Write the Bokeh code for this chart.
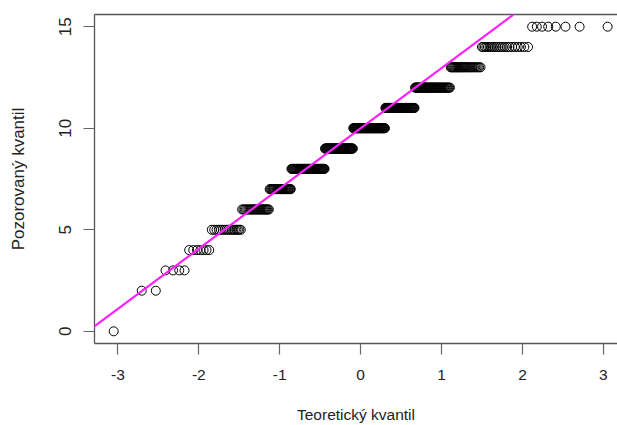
from statistics import NormalDist
import numpy as np
from bokeh.plotting import figure
from bokeh.models import Range1d, LinearAxis, FixedTicker, Slope
from bokeh.embed import file_html
from bokeh.resources import INLINE

values = [0, 1, 2, 3, 4, 5, 6, 7, 8, 9, 10, 11, 12, 13, 14, 15]
counts = [1, 0, 2, 4, 7, 17, 26, 29, 59, 59, 69, 57, 52, 29, 22, 8]
x_ticks = [-3, -2, -1, 0, 1, 2, 3]
x_tick_labels = ["-3", "-2", "-1", "0", "1", "2", "3"]
y_ticks = [0, 5, 10, 15]
y_tick_labels = ["0", "5", "10", "15"]
x_title = "Teoretický kvantil"
y_title = "Pozorovaný kvantil"

# build the sample, then the normal Q-Q coordinates (as R's qqnorm does)
sample = np.repeat(values, counts).astype(float)
n = len(sample)
nd = NormalDist()
theo = np.array([nd.inv_cdf((i + 1 - 0.5) / n) for i in range(n)])

# qqline through the 1st and 3rd quartiles
yq = np.quantile(sample, [0.25, 0.75])
xq = np.array([nd.inv_cdf(0.25), nd.inv_cdf(0.75)])
slope = (yq[1] - yq[0]) / (xq[1] - xq[0])
intercept = yq[0] - slope * xq[0]

FONT = "Liberation Sans"
BOX = "#555555"

p = figure(width=617, height=425, output_backend="svg", toolbar_location=None,
           x_range=Range1d(-3.29, 3.175), y_range=Range1d(-0.6, 15.6),
           min_border_left=94, min_border_right=0, min_border_top=14, min_border_bottom=81,
           x_axis_location=None, y_axis_location=None)
p.outline_line_color = None
p.grid.visible = False
p.background_fill_color = "white"
p.border_fill_color = "white"

xa = LinearAxis(ticker=FixedTicker(ticks=x_ticks), axis_label=x_title,
                major_label_overrides={t: s for t, s in zip(x_ticks, x_tick_labels)})
ya = LinearAxis(ticker=FixedTicker(ticks=y_ticks), axis_label=y_title,
                major_label_overrides={t: s for t, s in zip(y_ticks, y_tick_labels)})
for ax, fs in ((xa, "15.5px"), (ya, "17px")):
    ax.axis_line_color = BOX
    ax.axis_line_width = 1.3
    ax.major_tick_line_color = "#666666"
    ax.major_tick_line_width = 1.2
    ax.major_tick_in = 0
    ax.major_tick_out = 11
    ax.minor_tick_line_color = None
    ax.major_label_text_font = FONT
    ax.major_label_text_font_size = fs
    ax.major_label_text_color = "#222222"
    ax.axis_label_text_font = FONT
    ax.axis_label_text_font_size = fs
    ax.axis_label_text_font_style = "normal"
    ax.axis_label_text_color = "#222222"
xa.major_label_standoff = 15
xa.axis_label_standoff = 23
ya.major_label_orientation = "vertical"
ya.major_label_standoff = 12
ya.axis_label_standoff = 29
p.add_layout(xa, "below")
p.add_layout(ya, "left")

# top border of the box
top = LinearAxis(ticker=FixedTicker(ticks=[]), axis_line_color=BOX, axis_line_width=1.3,
                 major_label_text_font_size="0px", minor_tick_line_color=None,
                 major_tick_line_color=None)
p.add_layout(top, "above")

p.scatter(theo, sample, marker="circle", size=9, fill_color=None,
          line_color="black", line_width=1)

p.add_layout(Slope(gradient=slope, y_intercept=intercept,
                   line_color="#ff22ff", line_width=2.2))

open("out.html", "w").write(file_html(p, INLINE))
